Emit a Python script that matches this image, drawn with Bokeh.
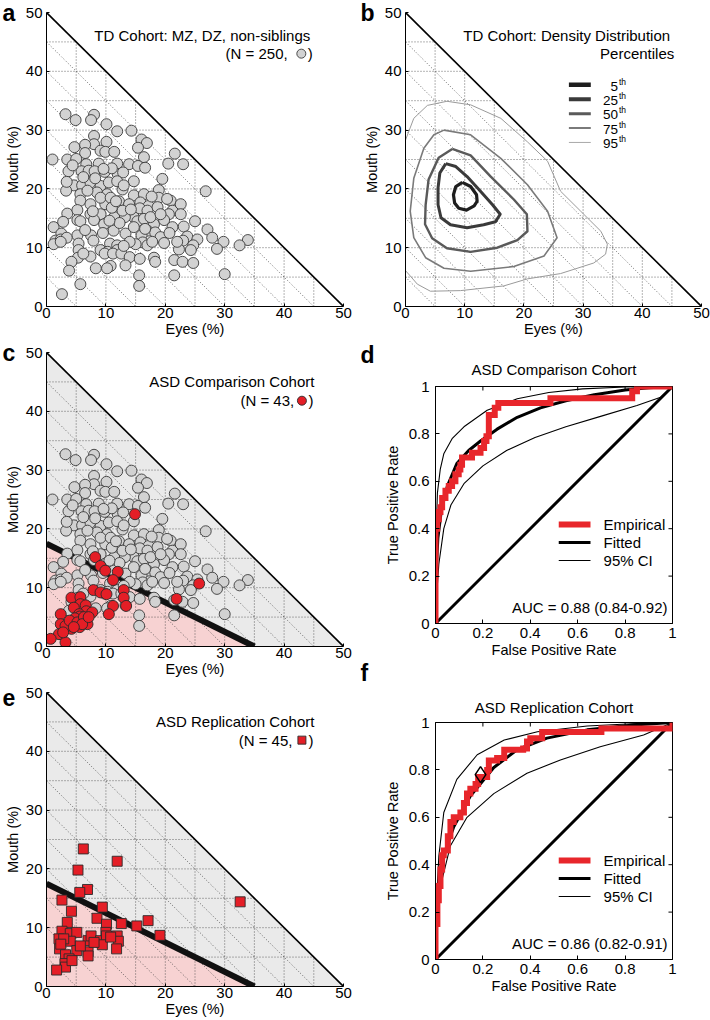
import numpy as np
from bokeh.plotting import figure
from bokeh.layouts import row, column
from bokeh.models import Range1d, FixedTicker, Label, Title, NumeralTickFormatter
from bokeh.embed import file_html
from bokeh.resources import INLINE

FONT = "Liberation Sans"

# ---------------- data ----------------
tri_ticks = [0, 10, 20, 30, 40, 50]
TRI_MAX = 50
GRID_STEP = 5
CUT_EYES = 35.0      # classification line: eyes intercept
CUT_MOUTH = 17.5     # classification line: mouth intercept

td_eyes = [3.2, 4.9, 8.0, 7.5, 10.1, 11.9, 14.3, 8.0, 8.0, 10.1, 16.0, 16.9, 4.7, 6.5, 6.5, 9.1, 9.9, 11.4,
           15.4, 16.4, 1.0, 3.5, 5.0, 6.7, 8.8, 11.9, 13.9, 15.4, 16.6, 20.5, 21.6, 23.0, 3.7, 5.9, 7.1, 8.1,
           9.8, 12.0, 12.9, 14.7, 19.5, 4.6, 6.0, 7.4, 9.1, 10.5, 11.9, 3.3, 5.7, 8.5, 10.2, 12.8, 14.7, 16.4,
           18.9, 26.8, 5.7, 7.4, 10.2, 12.2, 13.9, 15.8, 17.2, 18.9, 20.9, 21.2, 22.6, 3.5, 5.2, 7.4, 9.1, 9.9,
           12.2, 14.7, 15.7, 17.0, 18.7, 20.6, 22.6, 1.2, 2.8, 5.2, 5.7, 8.0, 9.7, 11.4, 13.2, 15.3, 16.4, 18.1,
           19.8, 23.1, 25.0, 27.1, 11.3, 13.3, 14.7, 17.0, 18.3, 21.2, 2.5, 5.2, 7.5, 16.0, 19.2, 23.7, 25.4,
           27.9, 1.5, 2.4, 3.4, 7.9, 16.2, 19.8, 23.0, 24.7, 29.8, 33.9, 32.5, 1.2, 2.4, 5.4, 10.7, 11.9, 15.0,
           17.0, 22.3, 24.3, 28.7, 5.4, 9.1, 10.3, 11.9, 9.8, 11.2, 12.6, 7.4, 5.3, 14.0, 15.7, 18.1, 18.3,
           21.5, 22.9, 24.7, 4.2, 13.3, 10.8, 8.3, 10.2, 3.8, 15.6, 21.5, 30.0, 5.7, 15.6, 2.6,
           9.1, 6.9, 10.8, 12.8, 17.5, 19.2, 20.3, 6.2, 8.2, 11.0, 13.0, 7.8, 11.0, 14.2, 16.6, 12.3, 14.0,
           6.5, 9.5, 17.8, 20.7, 22.0, 6.2, 13.0, 3.4, 4.4, 9.6, 17.7, 11.7, 10.6]
td_mouth = [32.7, 31.7, 32.6, 31.7, 31.0, 29.8, 29.9, 29.0, 27.6, 28.0, 28.4, 27.8, 27.1, 27.5, 26.1, 26.5, 26.3,
            26.3, 27.0, 25.4, 25.0, 25.0, 25.1, 24.2, 24.3, 24.3, 24.2, 23.9, 23.6, 24.3, 26.0, 24.2, 23.0, 23.0,
            23.1, 23.0, 22.9, 22.5, 22.8, 21.3, 21.7, 20.6, 20.6, 21.1, 20.5, 21.1, 21.3, 19.7, 19.1, 19.4, 19.1,
            19.9, 18.9, 19.1, 19.8, 19.6, 18.0, 17.4, 17.4, 17.9, 17.4, 17.7, 17.1, 18.5, 18.0, 16.3, 17.4, 15.8,
            16.4, 15.7, 15.7, 17.4, 16.3, 15.2, 16.7, 16.3, 16.9, 15.7, 15.7, 13.5, 14.4, 14.7, 14.5, 14.7, 14.0,
            15.2, 15.2, 14.5, 14.9, 14.0, 14.7, 13.6, 14.5, 13.1, 12.9, 12.4, 13.5, 12.9, 12.6, 13.5, 12.4, 12.1,
            12.1, 12.1, 11.8, 11.9, 11.4, 11.7, 11.2, 11.4, 11.7, 11.2, 10.9, 10.8, 11.2, 10.4, 11.0, 11.3, 10.4,
            10.6, 11.0, 10.7, 10.7, 10.4, 10.6, 10.4, 9.7, 9.6, 9.8, 9.6, 9.6, 9.3, 9.6, 9.0, 9.0, 9.0, 8.5, 8.3,
            8.4, 8.1, 8.3, 7.6, 7.9, 7.6, 7.4, 7.6, 7.0, 6.9, 6.5, 6.5, 6.1, 5.3, 5.3, 5.5, 3.8, 3.5, 2.1,
            18.5, 19.7, 18.5, 16.3, 15.2, 15.7, 18.3, 22.0, 21.8, 23.5, 20.6, 16.2, 16.8, 16.5, 13.2, 14.2, 11.0,
            13.0, 12.5, 11.0, 12.5, 11.0, 9.0, 10.3, 21.2, 24.0, 23.4, 18.7, 17.9, 14.6]

asd_cmp_eyes = [14.9, 8.2, 9.1, 9.9, 12.0, 11.2, 25.7, 7.9, 9.1, 10.1, 13.0, 13.0, 13.4, 11.2, 10.5, 21.9,
                4.2, 5.7, 5.7, 6.6, 4.6, 6.7, 5.5, 5.6, 4.8, 6.9, 5.6, 4.2, 3.5, 2.4, 2.4, 3.2, 2.1, 0.7,
                3.2, 3.9, 5.2, 6.3, 7.7, 6.0, 4.6, 7.1, 2.8]
asd_cmp_mouth = [22.5, 15.2, 13.7, 12.9, 12.7, 11.3, 10.7, 9.6, 9.2, 8.9, 9.6, 8.3, 6.9, 6.9, 5.5, 8.1,
                 8.3, 8.4, 7.2, 7.0, 6.6, 6.0, 5.5, 5.1, 4.8, 3.8, 3.3, 3.0, 3.5, 5.5, 3.8, 3.5, 2.1, 1.3,
                 0.7, 4.4, 4.1, 5.0, 5.8, 3.8, 3.3, 5.0, 2.4]

asd_rep_eyes = [6.2, 11.9, 5.3, 6.9, 5.6, 2.6, 32.6, 9.4, 4.2, 8.5, 3.5, 10.1, 12.6, 15.2, 17.1, 19.1,
                2.6, 4.0, 5.1, 10.0, 2.1, 4.0, 7.0, 7.5, 9.1, 10.1, 11.9, 12.1, 9.4, 2.2, 5.1, 7.0, 7.0,
                11.8, 3.2, 3.8, 3.1, 3.2, 1.7, 2.9, 5.7, 8.0, 10.8, 2.4, 4.3]
asd_rep_mouth = [23.4, 21.3, 19.8, 16.5, 16.0, 14.7, 14.4, 13.5, 12.8, 11.6, 10.9, 10.6, 10.7, 10.3, 11.2,
                 8.7, 9.4, 9.0, 9.2, 9.2, 8.1, 7.7, 7.8, 8.6, 7.8, 8.6, 8.6, 7.7, 7.1, 6.4, 6.1, 5.9, 5.2,
                 6.4, 5.4, 4.7, 3.9, 3.3, 2.8, 8.1, 6.9, 7.5, 8.4, 7.2, 4.4]

# density-percentile contours (panel b)
pct_labels = ["5", "25", "50", "75", "95"]
c05_x = [9.6, 11.0, 12.0, 12.1, 11.6, 10.3, 9.0, 8.3, 8.1, 8.5, 9.6]
c05_y = [21.1, 20.4, 19.0, 17.9, 17.1, 16.4, 16.7, 17.6, 19.0, 20.4, 21.1]
c25_x = [6.8, 8.5, 10.4, 12.4, 14.7, 16.0, 15.2, 13.2, 10.4, 7.6, 6.0, 5.5, 5.5, 5.8, 6.8]
c25_y = [24.3, 23.8, 22.1, 19.9, 17.3, 15.7, 14.4, 13.9, 13.4, 13.9, 15.1, 17.3, 20.2, 22.7, 24.3]
c50_x = [7.9, 11.0, 14.4, 18.3, 20.5, 20.6, 18.9, 15.5, 11.0, 7.0, 4.5, 3.3, 3.4, 3.9, 5.6, 7.9]
c50_y = [26.8, 25.7, 22.1, 18.2, 15.7, 12.8, 11.3, 10.0, 9.3, 9.9, 11.6, 14.0, 17.3, 21.6, 25.3, 26.8]
c75_x = [6.5, 11.0, 16.1, 20.6, 24.0, 25.6, 23.4, 18.3, 11.0, 6.5, 3.4, 1.4, 0.8, 1.4, 3.1, 4.8, 6.5]
c75_y = [30.0, 29.2, 25.2, 20.7, 16.2, 11.7, 8.6, 6.8, 6.0, 6.5, 8.3, 11.7, 16.2, 21.8, 26.9, 29.2, 30.0]
c95_x = [0.0, 1.4, 3.7, 7.0, 11.0, 16.1, 20.6, 24.0, 26.2, 29.6, 33.0, 34.1, 33.8, 31.8, 26.2, 20.6, 16.6,
         9.3, 4.2, 2.0, 0.8, 0.0]
c95_y = [28.3, 32.0, 34.2, 34.9, 34.3, 32.0, 28.0, 24.7, 19.6, 16.2, 12.8, 10.6, 8.9, 7.4, 5.6, 4.7, 3.5,
         2.7, 2.6, 3.8, 5.2, 6.1]

# ROC curves
roc_ticks = [0, 0.2, 0.4, 0.6, 0.8, 1.0]
d_emp_fpr = [0, 0, 0.007, 0.014, 0.021, 0.028, 0.042, 0.056, 0.07, 0.084, 0.098, 0.105, 0.112, 0.154, 0.19,
             0.205, 0.215, 0.225, 0.25, 0.265, 0.485, 0.83, 0.85, 1.0]
d_emp_tpr = [0, 0.40, 0.44, 0.47, 0.49, 0.53, 0.56, 0.58, 0.60, 0.63, 0.65, 0.67, 0.70, 0.72, 0.74,
             0.77, 0.79, 0.88, 0.91, 0.93, 0.95, 0.98, 1.0, 1.0]
d_fit_fpr = [0, 0.003, 0.01, 0.025, 0.05, 0.09, 0.14, 0.19, 0.26, 0.345, 0.443, 0.55, 0.67, 0.8, 0.9, 1.0]
d_fit_tpr = [0, 0.22, 0.36, 0.48, 0.58, 0.675, 0.73, 0.77, 0.82, 0.87, 0.91, 0.94, 0.965, 0.985, 0.995, 1.0]
d_hi_fpr = [0, 0.002, 0.008, 0.02, 0.035, 0.07, 0.12, 0.218, 0.345, 0.478, 0.62, 0.8, 1.0]
d_hi_tpr = [0, 0.35, 0.55, 0.65, 0.716, 0.78, 0.83, 0.90, 0.948, 0.975, 0.99, 0.998, 1.0]
d_lo_fpr = [0, 0.005, 0.014, 0.035, 0.065, 0.12, 0.2, 0.3, 0.42, 0.55, 0.7, 0.85, 0.95, 1.0]
d_lo_tpr = [0, 0.12, 0.25, 0.40, 0.50, 0.59, 0.665, 0.73, 0.785, 0.83, 0.875, 0.92, 0.955, 1.0]
d_auc = "AUC = 0.88 (0.84-0.92)"

f_emp_fpr = [0, 0, 0.008, 0.014, 0.021, 0.028, 0.035, 0.052, 0.063, 0.077, 0.105, 0.12, 0.133, 0.147, 0.169,
             0.18, 0.218, 0.225, 0.26, 0.29, 0.37, 0.386, 0.40, 0.45, 0.70, 1.0]
f_emp_tpr = [0, 0.15, 0.25, 0.31, 0.38, 0.44, 0.46, 0.52, 0.58, 0.60, 0.62, 0.66, 0.70, 0.72, 0.74,
             0.77, 0.80, 0.84, 0.85, 0.885, 0.89, 0.92, 0.934, 0.96, 0.975, 1.0]
f_fit_fpr = [0, 0.004, 0.015, 0.035, 0.077, 0.147, 0.246, 0.344, 0.47, 0.64, 0.835, 1.0]
f_fit_tpr = [0, 0.2, 0.33, 0.44, 0.56, 0.69, 0.81, 0.885, 0.934, 0.969, 0.989, 1.0]
f_hi_fpr = [0, 0.004, 0.014, 0.035, 0.09, 0.176, 0.29, 0.43, 0.64, 0.85, 1.0]
f_hi_tpr = [0, 0.24, 0.435, 0.62, 0.76, 0.864, 0.926, 0.961, 0.985, 0.996, 1.0]
f_lo_fpr = [0, 0.004, 0.021, 0.063, 0.133, 0.246, 0.386, 0.527, 0.695, 0.878, 1.0]
f_lo_tpr = [0, 0.10, 0.31, 0.48, 0.60, 0.70, 0.786, 0.842, 0.898, 0.947, 1.0]
f_op_fpr = [0.19]
f_op_tpr = [0.78]
f_auc = "AUC = 0.86 (0.82-0.91)"

# ---------------- style ----------------
RED = "#e8262b"
RED_MK = "#e41e26"
GRAY_MK = "#d2d2d2"
EDGE = "#3a3a3a"


def txt(p, x, y, s, align="left", size="15px", baseline="middle", style="normal", color="black"):
    p.add_layout(Label(x=x, y=y, text=s, text_align=align, text_baseline=baseline,
                       text_font=FONT, text_font_size=size, text_font_style=style,
                       text_color=color))


def letter(p, s, standoff, offset, valign="bottom", side="above"):
    p.add_layout(Title(text=s, align="left", vertical_align=valign, offset=offset,
                       standoff=standoff, text_font=FONT, text_font_size="23px",
                       text_font_style="bold", text_color="black"), side)


def style_axis(ax, ticks, standoff, lab_standoff, tick_in=3):
    ax.ticker = FixedTicker(ticks=ticks)
    ax.major_tick_in = tick_in
    ax.major_tick_out = 0
    ax.minor_tick_line_color = None
    ax.axis_line_color = "black"
    ax.major_tick_line_color = "black"
    ax.major_label_text_font = FONT
    ax.major_label_text_font_size = "15px"
    ax.major_label_text_color = "black"
    ax.axis_label_text_font = FONT
    ax.axis_label_text_font_size = "14.5px"
    ax.axis_label_text_font_style = "normal"
    ax.axis_label_text_color = "black"
    ax.major_label_standoff = standoff
    ax.axis_label_standoff = lab_standoff


def tri_panel(width, height, left, right, top, bottom, xstand=1, xlab=0):
    p = figure(width=width, height=height, x_range=Range1d(0, TRI_MAX), y_range=Range1d(0, TRI_MAX),
               output_backend="svg", toolbar_location=None,
               min_border_left=left, min_border_right=right, min_border_top=top, min_border_bottom=bottom)
    p.outline_line_color = None
    p.grid.visible = False
    p.xaxis.axis_label = "Eyes (%)"
    p.yaxis.axis_label = "Mouth (%)"
    style_axis(p.xaxis[0], tri_ticks, xstand, xlab)
    style_axis(p.yaxis[0], tri_ticks, 4, 2)
    return p


def tri_grid(p):
    g = np.arange(GRID_STEP, TRI_MAX, GRID_STEP)
    z = np.zeros_like(g)
    edge = TRI_MAX - g
    kw = dict(line_color="#444444", line_width=0.8, line_dash="1 2")
    p.segment(z, g, edge, g, **kw)
    p.segment(g, z, g, edge, **kw)
    p.segment(z, g, g, z, **kw)
    p.line([0, TRI_MAX], [TRI_MAX, 0], line_color="black", line_width=1.6)


def cutoff_regions(p):
    p.patch([0, CUT_EYES, TRI_MAX, 0], [CUT_MOUTH, 0, 0, TRI_MAX], fill_color="#eaeaea", line_color=None)
    p.patch([0, CUT_EYES, 0], [0, 0, CUT_MOUTH], fill_color="#f7d2d2", line_color=None)


def cutoff_line(p):
    p.line([0, CUT_EYES], [CUT_MOUTH, 0], line_color="#111111", line_width=6)


LET_S = -27.4   # letter title standoff for a 12px top band

# ---------------- panel a ----------------
pa = tri_panel(359, 340, 46, 16, 12, 34)
tri_grid(pa)
pa.scatter(td_eyes, td_mouth, marker="circle", size=11, fill_color=GRAY_MK, line_color=EDGE, line_width=0.9)
txt(pa, 45.1, 46.1, "TD  Cohort: MZ, DZ, non-siblings", align="right")
txt(pa, 40.6, 43.0, "(N = 250,", align="right")
pa.scatter([42.9], [43.0], marker="circle", size=9, fill_color=GRAY_MK, line_color=EDGE, line_width=0.9)
txt(pa, 44.0, 43.0, ")")
letter(pa, "a", LET_S, -44)

# ---------------- panel b ----------------
pb = tri_panel(351, 340, 46, 9, 12, 34)
tri_grid(pb)
contours = [(c95_x, c95_y, "#9a9a9a", 1.0), (c75_x, c75_y, "#7a7a7a", 1.6), (c50_x, c50_y, "#5a5a5a", 2.4),
            (c25_x, c25_y, "#3a3a3a", 3.0), (c05_x, c05_y, "#1e1e1e", 3.2)]
for cx, cy, col, lw in contours:
    pb.line(cx, cy, line_color=col, line_width=lw, line_join="round")
txt(pb, 45.4, 46.1, "TD  Cohort: Density Distribution", align="right")
txt(pb, 45.4, 43.0, "Percentiles", align="right")
leg_y = [37.7, 35.25, 32.8, 30.35, 27.9]
leg_col = ["#1e1e1e", "#3a3a3a", "#5a5a5a", "#7a7a7a", "#a8a8a8"]
leg_w = [4.5, 4.0, 3.0, 2.0, 1.0]
for lab, yy, col, lw in zip(pct_labels, leg_y, leg_col, leg_w):
    pb.line([27.6, 31.3], [yy, yy], line_color=col, line_width=lw)
    txt(pb, 35.9, yy - 0.2, lab, align="right", size="13.5px")
    txt(pb, 36.05, yy + 0.55, "th", size="8.5px")
letter(pb, "b", LET_S, -45)

# ---------------- panel c ----------------
pc = tri_panel(359, 340, 46, 16, 12, 34)
cutoff_regions(pc)
tri_grid(pc)
cutoff_line(pc)
pc.scatter(td_eyes, td_mouth, marker="circle", size=11, fill_color=GRAY_MK, line_color=EDGE, line_width=0.9)
pc.scatter(asd_cmp_eyes, asd_cmp_mouth, marker="circle", size=11, fill_color=RED_MK, line_color="#2a2a2a",
           line_width=0.9)
txt(pc, 45.1, 45.0, "ASD Comparison Cohort", align="right")
txt(pc, 41.7, 41.8, "(N = 43,", align="right")
pc.scatter([43.0], [41.8], marker="circle", size=9, fill_color=RED_MK, line_color="#2a2a2a", line_width=0.9)
txt(pc, 44.1, 41.8, ")")
letter(pc, "c", LET_S, -44)

# ---------------- panel e ----------------
pe = tri_panel(359, 339, 46, 16, 12, 33, 1, 0)
cutoff_regions(pe)
tri_grid(pe)
cutoff_line(pe)
pe.scatter(asd_rep_eyes, asd_rep_mouth, marker="square", size=10, fill_color=RED_MK, line_color="#2a2a2a",
           line_width=0.9)
txt(pe, 45.1, 45.1, "ASD Replication Cohort", align="right")
txt(pe, 41.4, 41.9, "(N = 45,", align="right")
pe.scatter([43.0], [41.9], marker="square", size=8, fill_color=RED_MK, line_color="#2a2a2a", line_width=0.9)
txt(pe, 44.1, 41.9, ")")
letter(pe, "e", LET_S, -44)


# ---------------- ROC panels ----------------
def roc_panel(height, top, bottom, title, title_valign, title_standoff):
    p = figure(width=351, height=height, x_range=Range1d(0, 1), y_range=Range1d(0, 1),
               output_backend="svg", toolbar_location=None,
               min_border_left=76, min_border_right=38, min_border_top=top, min_border_bottom=bottom)
    p.add_layout(Title(text=title, align="center", vertical_align=title_valign, standoff=title_standoff,
                       text_font=FONT, text_font_size="15px", text_font_style="normal",
                       text_color="black"), "above")
    p.outline_line_color = "black"
    p.outline_line_alpha = 1.0
    p.outline_line_width = 1
    p.grid.visible = False
    p.xaxis.axis_label = "False Positive Rate"
    p.yaxis.axis_label = "True Positive Rate"
    style_axis(p.xaxis[0], roc_ticks, 4, 1, tick_in=4)
    style_axis(p.yaxis[0], roc_ticks, 6, 5, tick_in=4)
    p.xaxis.formatter = NumeralTickFormatter(format="0.[0]")
    p.yaxis.formatter = NumeralTickFormatter(format="0.[0]")
    # inner ticks on the right and top edges of the box
    t = np.array(roc_ticks)
    tl = 0.017
    p.segment(np.ones_like(t), t, np.ones_like(t) - tl, t, line_color="black", line_width=1)
    p.segment(t, np.ones_like(t), t, np.ones_like(t) - tl, line_color="black", line_width=1)
    return p


def roc_draw(p, emp_x, emp_y, fit_x, fit_y, lo_x, lo_y, hi_x, hi_y, auc):
    p.line([roc_ticks[0], roc_ticks[-1]], [roc_ticks[0], roc_ticks[-1]], line_color="black", line_width=3)
    p.line(lo_x, lo_y, line_color="black", line_width=1.1)
    p.line(hi_x, hi_y, line_color="black", line_width=1.1)
    p.line(fit_x, fit_y, line_color="black", line_width=3)
    p.step(emp_x, emp_y, mode="after", line_color=RED, line_width=6, line_join="miter")
    # legend
    p.line([0.52, 0.654], [0.418, 0.418], line_color=RED, line_width=6)
    p.line([0.52, 0.654], [0.342, 0.342], line_color="black", line_width=3)
    p.line([0.52, 0.654], [0.266, 0.266], line_color="black", line_width=1.1)
    txt(p, 0.709, 0.418, "Empirical")
    txt(p, 0.709, 0.342, "Fitted")
    txt(p, 0.709, 0.266, "95% CI")
    txt(p, 0.979, 0.068, auc, align="right")


pd_ = roc_panel(350, 46, 67, "ASD Comparison Cohort", "top", 13.2)
roc_draw(pd_, d_emp_fpr, d_emp_tpr, d_fit_fpr, d_fit_tpr, d_lo_fpr, d_lo_tpr, d_hi_fpr, d_hi_tpr, d_auc)
letter(pd_, "d", -27, -75)
letter(pd_, "f", -1, -75, valign="top", side="below")

pf = roc_panel(329, 32, 60, "ASD Replication Cohort", "middle", 11.2)
roc_draw(pf, f_emp_fpr, f_emp_tpr, f_fit_fpr, f_fit_tpr, f_lo_fpr, f_lo_tpr, f_hi_fpr, f_hi_tpr, f_auc)
pf.scatter(f_op_fpr, f_op_tpr, marker="diamond", size=16, fill_color=None, line_color="black", line_width=1.5)

layout = column(row(pa, pb), row(column(pc, pe), column(pd_, pf)))
open("out.html", "w").write(file_html(layout, INLINE))
